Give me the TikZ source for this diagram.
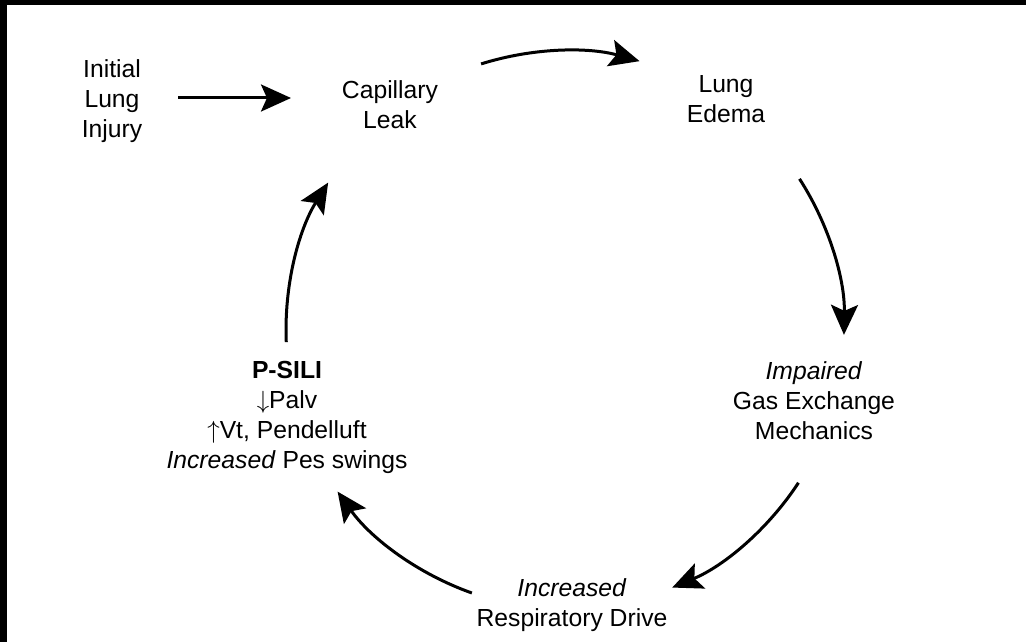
\documentclass[tikz,border=0pt]{standalone}
\usepackage{fontspec}
\setmainfont{Liberation Sans}
\usetikzlibrary{arrows.meta,calc}
\newcommand{\dnarr}{$\downarrow$}
\newcommand{\uparr}{$\uparrow$}
\begin{document}
\begin{tikzpicture}[x=1pt,y=-1pt,
  lbl/.style={align=center, inner sep=0pt, font=\fontsize{24.7}{30}\selectfont},
  arr/.style={line width=3pt, -{Stealth[length=30pt,width=27pt,inset=6pt]}}]
\useasboundingbox (0,0) rectangle (1026,642);
\fill[black] (0,0) rectangle (1026,5.5);
\fill[black] (0,0) rectangle (7,642);
% nodes
\node[lbl] (init) at (112,101) {Initial\\Lung\\Injury};
\node[lbl] (cap) at (390,105) {Capillary\\Leak};
\node[lbl] (edema) at (726,99) {Lung\\Edema};
\node[lbl] (gas) at (814,401) {\textit{Impaired}\\Gas Exchange\\Mechanics};
\node[lbl] (drive) at (572,605) {\textit{Increased}\\Respiratory Drive};
\node[lbl] (psili) at (287,417) {\textbf{P-SILI}\\\dnarr Palv\\\uparr Vt, Pendelluft\\\textit{Increased} Pes swings};
% connectors
\coordinate (a0s) at (178,98);
\coordinate (a0e) at (291,98);
\draw[arr] (a0s) -- (a0e);
\coordinate (ctr) at (565,330);
\coordinate (a1s) at ($(ctr)+(107.5:279pt)$);
\coordinate (a2s) at ($(ctr)+(32.8:279pt)$);
\coordinate (a3s) at ($(ctr)+(-33.2:279pt)$);
\coordinate (a4s) at ($(ctr)+(-109.5:279pt)$);
\coordinate (a5s) at ($(ctr)+(-177.5:279pt)$);
\draw[arr] (a1s) arc[start angle=107.5, end angle=74.5, radius=279pt];
\draw[arr] (a2s) arc[start angle=32.8, end angle=-1.0, radius=279pt];
\draw[arr] (a3s) arc[start angle=-33.2, end angle=-67.4, radius=279pt];
\draw[arr] (a4s) arc[start angle=-109.5, end angle=-144.6, radius=279pt];
\draw[arr] (a5s) arc[start angle=-177.5, end angle=-211.9, radius=279pt];
\end{tikzpicture}
\end{document}
